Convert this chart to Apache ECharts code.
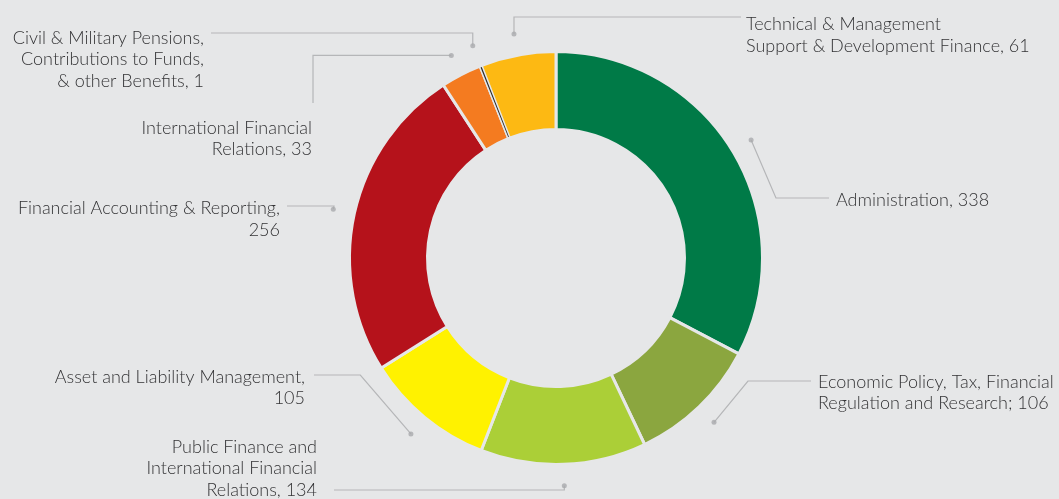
<!DOCTYPE html>
<html>
<head>
<meta charset="utf-8">
<script src="https://cdn.jsdelivr.net/npm/echarts@6/dist/echarts.min.js"></script>
<style>
  html, body { margin: 0; padding: 0; background: #e6e7e8; }
  #chart { width: 1059px; height: 499px; }
</style>
</head>
<body>
<div id="chart"></div>
<script>
// Staff per programme, clockwise from twelve o'clock
const categories = [
  'Administration',
  'Economic Policy, Tax, Financial\nRegulation and Research',
  'Public Finance and\nInternational Financial\nRelations',
  'Asset and Liability Management',
  'Financial Accounting & Reporting',
  'International Financial\nRelations',
  'Civil & Military Pensions,\nContributions to Funds,\n& other Benefits',
  'Technical & Management\nSupport & Development Finance'
];
const values = [338, 106, 134, 105, 256, 33, 1, 61];
const valueSeparators = [', ', '; ', ', ', ',\n', ',\n', ', ', ', ', ', '];
const colors = ['#007a47', '#8ba63f', '#abcf37', '#fff200', '#b5121b', '#f47b20', '#2b2b2b', '#fdb913'];

// ring geometry
const CX = 556, CY = 258;
const R_OUT = 205, R_IN = 130, GAP = 3;
const DOT_R = 228;            // radius where each leader line starts
const BG = '#e6e7e8';
const LINE = '#b5b6b8';

// where each label sits and how its leader line reaches it
const labelPlacement = [
  { x: 836, y: 200,   align: 'left',  va: 'middle', lineY: 198, lineEnd: 829, route: 'arc' },
  { x: 818, y: 371,   align: 'left',  va: 'top',    lineY: 381, lineEnd: 811, route: 'arc' },
  { x: 317, y: 500.5, align: 'right', va: 'bottom', lineY: 490, lineEnd: 334, route: 'vertical' },
  { x: 305, y: 366,   align: 'right', va: 'top',    lineY: 375, lineEnd: 314, route: 'arc' },
  { x: 280, y: 197.5, align: 'right', va: 'top',    lineY: 206, lineEnd: 287, route: 'arc' },
  { x: 312, y: 117,   align: 'right', va: 'top',    lineY: 103, lineEnd: 313, route: 'drop' },
  { x: 204, y: 27,    align: 'right', va: 'top',    lineY: 33,  lineEnd: 211, route: 'vertical' },
  { x: 746, y: 13.5,  align: 'left',  va: 'top',    lineY: 17,  lineEnd: 741, route: 'vertical' }
];

const total = values.reduce((a, b) => a + b, 0);
const midValues = [];
values.reduce((acc, v) => { midValues.push(acc + v / 2); return acc + v; }, 0);

const ringData = categories.map((name, i) => ({
  name: name,
  value: values[i],
  itemStyle: { color: colors[i] }
}));

// the one-unit slice is thinner than the gaps, so it is painted again on top
const sliverData = categories.map((name, i) => ({
  name: name,
  value: values[i],
  itemStyle: { color: values[i] <= 1 ? colors[i] : 'rgba(0,0,0,0)', borderWidth: 0 }
}));

const labelData = categories.map((name, i) => ({ name: name, value: values[i] }));

const textStyle = {
  fontFamily: 'Lato, "Liberation Sans", sans-serif',
  fontSize: 18,
  fontWeight: 300,
  color: '#333335',
  lineHeight: 21.5
};

const chart = echarts.init(document.getElementById('chart'), null, { renderer: 'canvas' });

chart.setOption({
  backgroundColor: BG,
  animation: false,
  polar: { center: [CX, CY], radius: DOT_R },
  angleAxis: { type: 'value', min: 0, max: total, startAngle: 90, clockwise: true, show: false },
  radiusAxis: { type: 'value', min: 0, max: 1, show: false },
  series: [
    {
      type: 'pie',
      center: [CX, CY],
      radius: [R_IN - GAP / 2, R_OUT + GAP / 2],
      startAngle: 90,
      clockwise: true,
      silent: true,
      label: { show: false },
      labelLine: { show: false },
      itemStyle: { borderColor: BG, borderWidth: GAP },
      data: ringData
    },
    {
      type: 'pie',
      center: [CX, CY],
      radius: [R_IN, R_OUT],
      startAngle: 90,
      clockwise: true,
      silent: true,
      z: 3,
      label: { show: false },
      labelLine: { show: false },
      data: sliverData
    },
    {
      type: 'pie',
      center: [CX, CY],
      radius: [DOT_R - 1, DOT_R],
      startAngle: 90,
      clockwise: true,
      silent: true,
      z: 4,
      avoidLabelOverlap: false,
      itemStyle: { color: 'rgba(0,0,0,0)' },
      label: Object.assign({
        show: true,
        position: 'outside',
        formatter: (p) => p.name + valueSeparators[p.dataIndex] + p.value
      }, textStyle),
      labelLine: {
        show: true,
        length: 10,
        length2: 10,
        lineStyle: { color: LINE, width: 1.2 }
      },
      labelLayout: function (p) {
        const pl = labelPlacement[p.dataIndex];
        const s = p.labelLinePoints[0];
        let pts;
        if (pl.route === 'arc') {
          const dy = pl.lineY - CY;
          const dx = Math.sqrt(Math.max(DOT_R * DOT_R - dy * dy, 0));
          pts = [s, [CX + (pl.align === 'left' ? dx : -dx), pl.lineY], [pl.lineEnd, pl.lineY]];
        } else if (pl.route === 'vertical') {
          pts = [s, [s[0], pl.lineY], [pl.lineEnd, pl.lineY]];
        } else {
          pts = [s, [pl.lineEnd, s[1]], [pl.lineEnd, pl.lineY]];
        }
        return { x: pl.x, y: pl.y, align: pl.align, verticalAlign: pl.va, labelLinePoints: pts };
      },
      data: labelData
    },
    {
      type: 'scatter',
      coordinateSystem: 'polar',
      silent: true,
      z: 6,
      symbol: 'circle',
      symbolSize: 5,
      itemStyle: { color: '#a9aaac' },
      data: midValues.map((m) => [1, m])
    }
  ]
});
</script>
</body>
</html>
